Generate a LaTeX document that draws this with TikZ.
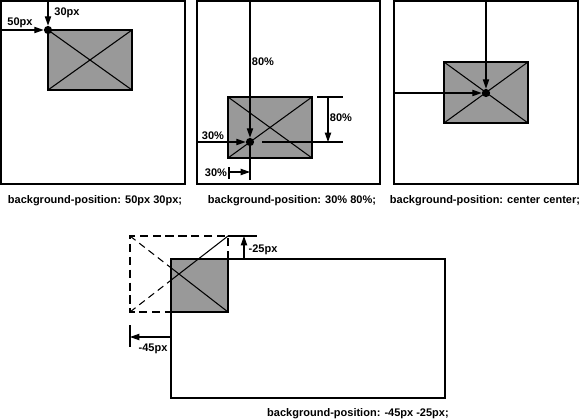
\documentclass[tikz,border=0pt]{standalone}
\usepackage{fontspec}
\setmainfont{Liberation Sans}
\usetikzlibrary{arrows.meta}
\definecolor{imggray}{RGB}{153,153,153}

\begin{document}
\begin{tikzpicture}[
        x=0.03cm, y=-0.03cm,
        every node/.style={font=\bfseries\fontsize{9.4}{11}\selectfont},
        frame/.style={draw, line width=1.8pt},
        imgbox/.style={draw, fill=imggray, line width=1.8pt},
        fineline/.style={line width=0.9pt},
        arr/.style={fineline, -{Triangle[length=8pt,width=5.4pt]}},
        dot/.style={fill, circle, inner sep=0pt, minimum size=7pt},
        dashedrect/.style={line width=1.8pt, dash pattern=on 7pt off 4pt},
        dasheddiag/.style={fineline, dash pattern=on 6pt off 4pt}
    ]
        \useasboundingbox (0,0) rectangle (580,420);

        % 50px 30px
        \draw[frame] (1,1) rectangle (185,184);
        \draw[imgbox] (48,30) rectangle (132,90);
        \draw[fineline] (48,30) -- (132,90) (48,90) -- (132,30);
        \node[dot] (dotA) at (48,30) {};
        \coordinate (leftA) at (1,30);
        \coordinate (topA) at (48,1);
        \draw[arr] (leftA) -- (dotA);
        \draw[arr] (topA) -- (dotA);
        \node (lblAx) at (20,23) {50px};
        \node (lblAy) at (67,13) {30px};
        \node (capA) at (95,201) {background-position: 50px 30px;};

        % 30% 80%
        \draw[frame] (197,1) rectangle (380,184);
        \draw[imgbox] (228,97) rectangle (312,158);
        \draw[fineline] (228,97) -- (312,158) (228,158) -- (312,97);
        \node[dot] (dotB) at (250,142) {};
        \coordinate (topB) at (250,1);
        \coordinate (botB) at (250,180);
        \coordinate (leftB) at (197,142);
        \draw[arr] (topB) -- (dotB);
        \draw[fineline] (dotB) -- (botB);
        \draw[arr] (leftB) -- (dotB);
        \coordinate (refB1) at (262,142);
        \coordinate (refB2) at (343,142);
        \coordinate (refB3) at (317,97);
        \coordinate (refB4) at (343,97);
        \draw[fineline] (refB1) -- (refB2);
        \draw[fineline] (refB3) -- (refB4);
        \draw[arr] (328,97) -- (328,142);
        \coordinate (tickB1) at (229,167);
        \coordinate (tickB2) at (229,179);
        \draw[fineline] (tickB1) -- (tickB2);
        \draw[arr] (229,172) -- (250,172);
        \node (lblBy) at (263,62) {80\%};
        \node (lblBx) at (213,136) {30\%};
        \node (lblBdy) at (341,118) {80\%};
        \node (lblBdx) at (216,173) {30\%};
        \node (capB) at (292,201) {background-position: 30\% 80\%;};

        % center center
        \draw[frame] (394,1) rectangle (578,184);
        \draw[imgbox] (444,62) rectangle (528,123);
        \draw[fineline] (444,62) -- (528,123) (444,123) -- (528,62);
        \node[dot] (dotC) at (486,93) {};
        \coordinate (topC) at (486,1);
        \coordinate (leftC) at (394,93);
        \draw[arr] (topC) -- (dotC);
        \draw[arr] (leftC) -- (dotC);
        \node (capC) at (485,201) {background-position: center center;};

        % -45px -25px
        \fill[imggray] (171,259) rectangle (228,312);
        \draw[dashedrect] (228,259) -- (228,236) -- (130,236) -- (130,312) -- (171,312);
        \draw[dasheddiag] (130,236) -- (171,267.8);
        \draw[fineline] (171,267.8) -- (228,312);
        \draw[dasheddiag] (130,312) -- (171,280.2);
        \draw[fineline] (171,280.2) -- (228,236);
        \draw[frame] (171,259) rectangle (445,398);
        \draw[line width=1.8pt] (171,312) -- (228,312) -- (228,259);
        \draw[fineline] (228,236) -- (257,236);
        \draw[arr] (244,259) -- (244,236);
        \draw[fineline] (130,325) -- (130,347);
        \draw[arr] (171,337) -- (130,337);
        \node (lblDy) at (263,250) {-25px};
        \node (lblDx) at (153,349) {-45px};
        \node (capD) at (358,414) {background-position: -45px -25px;};
\end{tikzpicture}
\end{document}
